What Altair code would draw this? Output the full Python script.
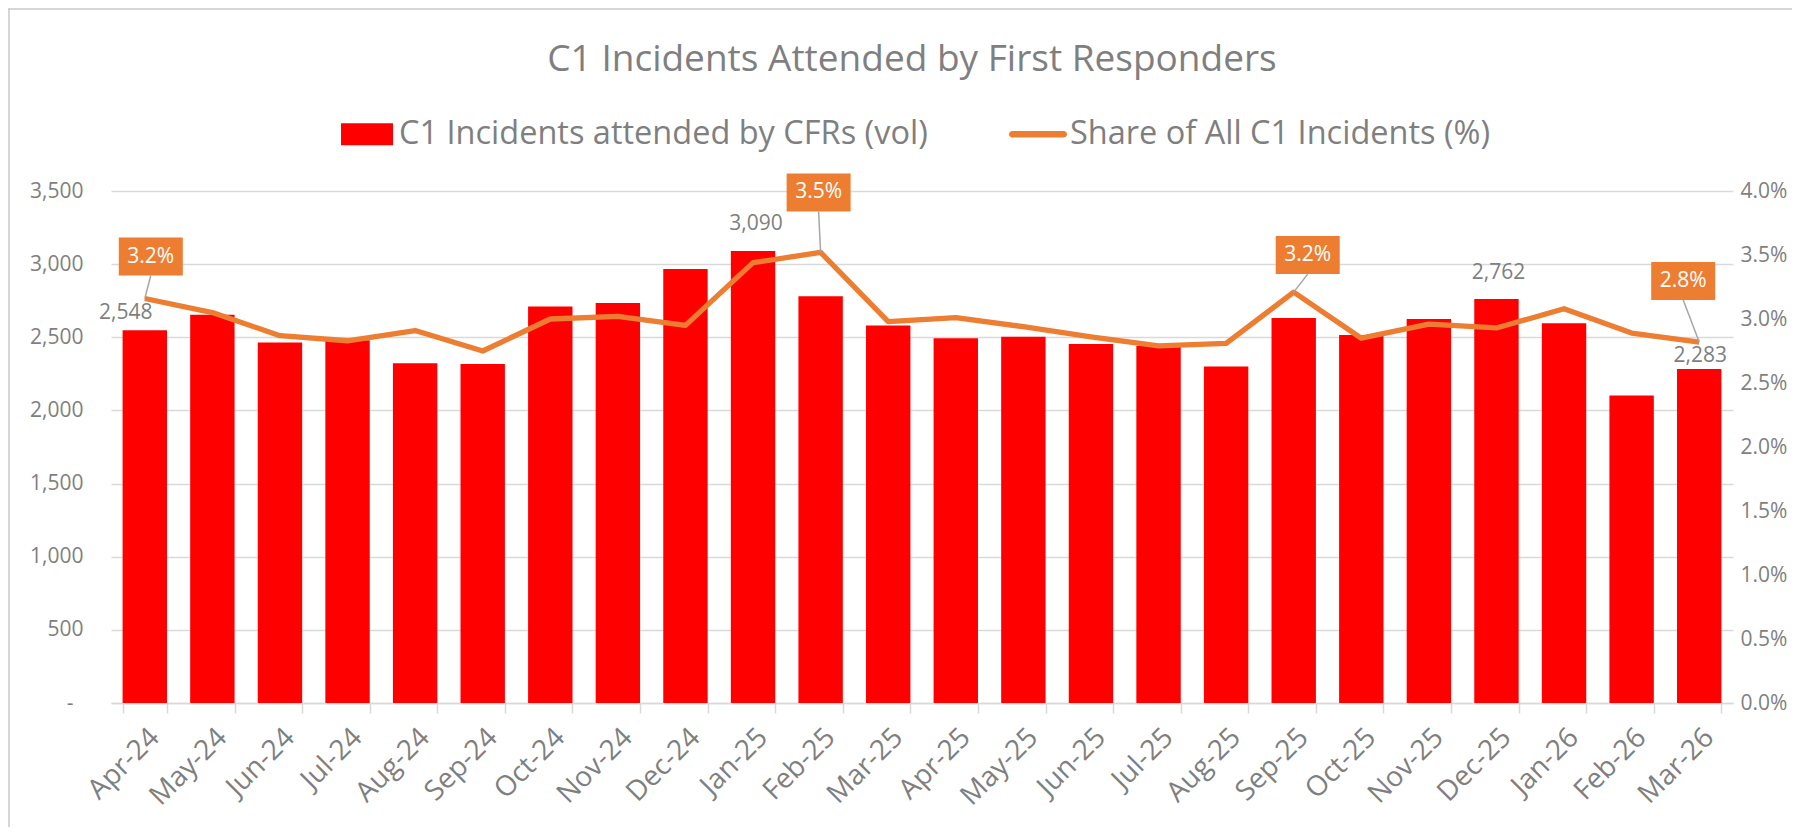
import altair as alt
import pandas as pd

months = ["Apr-24", "May-24", "Jun-24", "Jul-24", "Aug-24", "Sep-24", "Oct-24", "Nov-24",
          "Dec-24", "Jan-25", "Feb-25", "Mar-25", "Apr-25", "May-25", "Jun-25", "Jul-25",
          "Aug-25", "Sep-25", "Oct-25", "Nov-25", "Dec-25", "Jan-26", "Feb-26", "Mar-26"]
cfr_volume = [2548, 2654, 2464, 2480, 2322, 2318, 2710, 2734, 2967, 3090, 2781, 2581,
              2493, 2503, 2454, 2440, 2300, 2632, 2515, 2625, 2762, 2596, 2102, 2283]
share_pct = [3.16, 3.05, 2.87, 2.83, 2.91, 2.75, 3.00, 3.02, 2.95, 3.44, 3.52, 2.98,
             3.01, 2.94, 2.86, 2.79, 2.81, 3.21, 2.85, 2.96, 2.93, 3.08, 2.89, 2.82]
series_names = ["C1 Incidents attended by CFRs (vol)", "Share of All C1 Incidents (%)"]
vol_label_months = ["Apr-24", "Jan-25", "Dec-25", "Mar-26"]
pct_label_months = ["Apr-24", "Feb-25", "Sep-25", "Mar-26"]

df = pd.DataFrame({"month": months, "vol": cfr_volume,
                   "pct": [v / 100 for v in share_pct]})
legend_df = pd.DataFrame({"series": series_names})
frame_df = pd.DataFrame({"edge": ["frame"]})

FONT = "Open Sans"
GREY = "#7f7f7f"
GRID = "#d9d9d9"
RED = "#ff0000"
ORANGE = "#ed7d31"

W, H = 1622, 512
PAD = {"left": 103, "top": 183, "right": 59, "bottom": 124}

# styling offsets (pixels) for annotations
vol_offsets = {"Apr-24": (-19, -17), "Jan-25": (3, -27), "Dec-25": (2, -26), "Mar-26": (1, -13)}
box_offsets = {"Apr-24": (6, -42), "Feb-25": (-2, -60), "Sep-25": (14, -37), "Mar-26": (-16, -61)}
BOX_W, BOX_H = 64, 38

x_enc = alt.X("month:N", sort=months, title=None,
              scale=alt.Scale(paddingInner=0.343, paddingOuter=0.1715),
              axis=alt.Axis(labelAngle=-45, labelFont=FONT, labelFontSize=28, labelColor=GREY,
                            labelPadding=10, domainColor=GRID, domainWidth=1.5,
                            tickColor=GRID, tickWidth=1.5, tickSize=10, tickBand="extent",
                            grid=False))
x2_enc = alt.X2("month:N")

y_vol = alt.Y("vol:Q", title=None, scale=alt.Scale(domain=[0, 3500]),
              axis=alt.Axis(values=[0, 500, 1000, 1500, 2000, 2500, 3000, 3500],
                            labelExpr="datum.value == 0 ? '-' : format(datum.value, ',')",
                            labelFont=FONT, labelFontSize=21, labelColor=GREY,
                            labelPadding={"condition": {"test": "datum.value === 0", "value": 38},
                                          "value": 28},
                            ticks=False, domain=False, grid=True, gridColor=GRID, gridWidth=1.5))
y_pct = alt.Y("pct:Q", title=None, scale=alt.Scale(domain=[0, 0.04]),
              axis=alt.Axis(orient="right", values=[0, 0.005, 0.01, 0.015, 0.02, 0.025, 0.03, 0.035, 0.04],
                            format=".1%", labelFont=FONT, labelFontSize=21, labelColor=GREY,
                            labelPadding=7, ticks=False, domain=False, grid=False))

base = alt.Chart(df)

bars = base.mark_bar(color=RED).encode(x=x_enc, y=y_vol)

vol_labels = []
for m in vol_label_months:
    dx, dy = vol_offsets[m]
    vol_labels.append(
        base.transform_filter(alt.datum.month == m)
        .mark_text(font=FONT, fontSize=21, color=GREY, dx=dx, dy=dy, baseline="middle", align="center")
        .encode(x=x_enc, y=y_vol, text=alt.Text("vol:Q", format=","))
    )

vol_group = alt.layer(bars, *vol_labels)

line = base.mark_line(color=ORANGE, strokeWidth=5.3, strokeJoin="round").encode(x=x_enc, y=y_pct)

pct_layers = []
hh = BOX_H / BOX_W
box_path = f"M-1,{-hh}L1,{-hh}L1,{hh}L-1,{hh}Z"
for m in pct_label_months:
    dx, dy = box_offsets[m]
    sel = base.transform_filter(alt.datum.month == m)
    pct_layers.append(
        sel.mark_rule(color="#a6a6a6", strokeWidth=1.5, x2Offset=dx, y2Offset=dy + BOX_H / 2)
        .encode(x=x_enc, x2=x2_enc, y=y_pct, y2=alt.Y2("pct:Q"))
    )
    pct_layers.append(
        sel.mark_point(shape=box_path, size=BOX_W * BOX_W, filled=True, fill=ORANGE,
                       opacity=1, strokeWidth=0, xOffset=dx, yOffset=dy)
        .encode(x=x_enc, y=y_pct)
    )
    pct_layers.append(
        sel.mark_text(font=FONT, fontSize=21, color="white", dx=dx, dy=dy, baseline="middle", align="center")
        .encode(x=x_enc, y=y_pct, text=alt.Text("pct:Q", format=".1%"))
    )

pct_group = alt.layer(line, *pct_layers)

rect_path = "M-1,-0.42L1,-0.42L1,0.42L-1,0.42Z"
line_path = ("M-0.99,-0.125L0.99,-0.125A0.125,0.125 0 0 1 0.99,0.125"
             "L-0.99,0.125A0.125,0.125 0 0 1 -0.99,-0.125Z")
legend_props = dict(orient="none", legendX=230, legendY=-83, direction="horizontal", title=None,
                    labelFont=FONT, labelFontSize=32.5, labelColor=GREY, labelLimit=800,
                    symbolSize=2704, symbolStrokeWidth=0, symbolOpacity=1, labelOffset=6,
                    columnPadding=81)
legend_layer = alt.Chart(legend_df).mark_point(filled=True, opacity=0).encode(
    color=alt.Color("series:N", sort=series_names,
                    scale=alt.Scale(domain=series_names, range=[RED, ORANGE]),
                    legend=alt.Legend(**legend_props)),
    shape=alt.Shape("series:N", sort=series_names,
                    scale=alt.Scale(domain=series_names, range=[rect_path, line_path]),
                    legend=alt.Legend(**legend_props)),
)

# light chart-area frame (top and left edges, as in the reference)
frame_top = alt.Chart(frame_df).mark_rule(color="#c8c8c8", strokeWidth=1.5).encode(
    x=alt.value(-PAD["left"]), x2=alt.value(W + PAD["right"]), y=alt.value(-PAD["top"] + 1))
frame_left = alt.Chart(frame_df).mark_rule(color="#c8c8c8", strokeWidth=1.5).encode(
    x=alt.value(-PAD["left"] + 1), y=alt.value(-PAD["top"] + 1), y2=alt.value(H + PAD["bottom"]))

chart = alt.layer(vol_group, pct_group, legend_layer, frame_top, frame_left).resolve_scale(
    y="independent").properties(
    width=W, height=H,
    padding=PAD,
    autosize=alt.AutoSizeParams(type="none"),
    title=alt.TitleParams("C1 Incidents Attended by First Responders", font=FONT, fontSize=37,
                          color=GREY, fontWeight="normal", anchor="middle", offset=-71, dx=-10),
).configure_view(stroke=None)

chart.save("out.html", embed_options={"renderer": "svg", "actions": False})
